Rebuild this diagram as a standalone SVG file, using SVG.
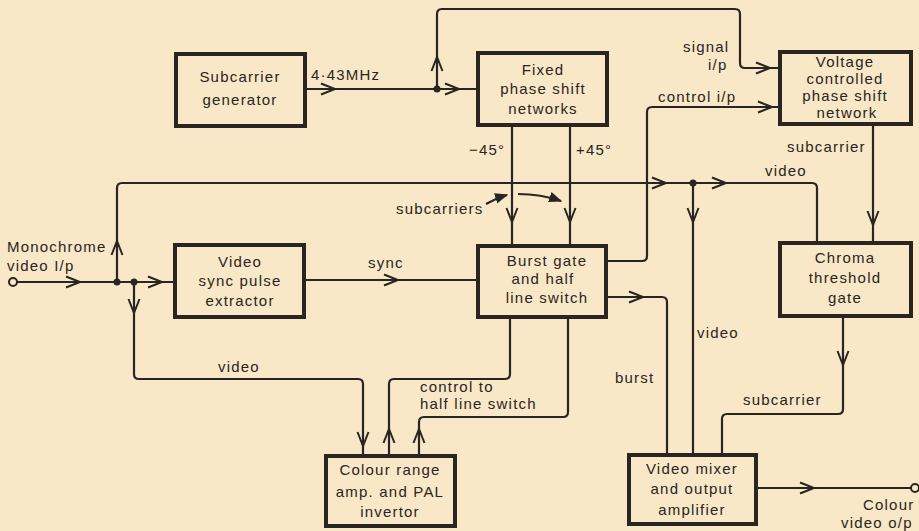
<svg xmlns="http://www.w3.org/2000/svg" xmlns:xlink="http://www.w3.org/1999/xlink" width="919" height="531" viewBox="0 0 919 531">
<style>
.box{fill:none;stroke:#2a2520;stroke-width:4}
.t{font-family:"Liberation Sans","DejaVu Sans",sans-serif;font-size:15px;fill:#2a2520;letter-spacing:1.2px}
.c{text-anchor:middle}
.ln{fill:none;stroke:#2a2520;stroke-width:2.2;stroke-linejoin:round}
.ah{fill:none;stroke:#2a2520;stroke-width:2;stroke-linejoin:miter}
.dot{fill:#2a2520}
</style>
<defs>
<path id="ah" d="M-14,-5.5 L0,0 L-14,5.5"/>
<marker id="sm" viewBox="0 0 10 10" refX="9" refY="5" markerWidth="6" markerHeight="6" orient="auto"><path d="M0,1 L10,5 L0,9 Z" fill="#2a2520"/></marker>
</defs>
<rect width="919" height="531" fill="#f8e8c8"/>

<g id="connectors">
<path class="ln" d="M306,89 H476"/>
<path class="ln" d="M437,89 V14 Q437,9 442,9 H735 Q740,9 740,14 V63 Q740,68 745,68 H778"/>
<path class="ln" d="M607,261 H642 Q647,261 647,256 V112 Q647,107 652,107 H778"/>
<path class="ln" d="M512,126 V244"/>
<path class="ln" d="M570,126 V244"/>
<path class="ln" d="M873,124 V241"/>
<path class="ln" d="M117,282 V188 Q117,183 122,183 H812 Q817,183 817,188 V241"/>
<path class="ln" d="M693,183 V453"/>
<path class="ln" d="M17,282 H174"/>
<path class="ln" d="M134,282 V374 Q134,379 139,379 H358 Q363,379 363,384 V454"/>
<path class="ln" d="M389,454 V384 Q389,379 394,379 H505 Q510,379 510,374 V318"/>
<path class="ln" d="M419,454 V422 Q419,417 424,417 H563 Q568,417 568,412 V318"/>
<path class="ln" d="M305,280 H477"/>
<path class="ln" d="M607,297 H662 Q667,297 667,302 V453"/>
<path class="ln" d="M843,317 V409 Q843,414 838,414 H727 Q722,414 722,419 V453"/>
<path class="ln" d="M757,488 H911"/>
<circle cx="13" cy="282" r="4" fill="none" stroke="#2a2520" stroke-width="2"/>
<circle cx="915" cy="488" r="4" fill="none" stroke="#2a2520" stroke-width="2"/>
<circle class="dot" cx="437" cy="89" r="3.5"/>
<circle class="dot" cx="693" cy="183" r="3.5"/>
<circle class="dot" cx="117" cy="282" r="3.5"/>
<circle class="dot" cx="134" cy="282" r="3.5"/>
<path class="ln" d="M486,204 Q497,198 507,195" stroke-width="1.5" marker-end="url(#sm)"/>
<path class="ln" d="M518,194 Q541,194 561,201" stroke-width="1.5" marker-end="url(#sm)"/>
<g class="ah">
<use xlink:href="#ah" transform="translate(335,89)"/>
<use xlink:href="#ah" transform="translate(459,89)"/>
<use xlink:href="#ah" transform="translate(437,57) rotate(-90)"/>
<use xlink:href="#ah" transform="translate(770,68)"/>
<use xlink:href="#ah" transform="translate(772,107)"/>
<use xlink:href="#ah" transform="translate(512,222) rotate(90)"/>
<use xlink:href="#ah" transform="translate(570,222) rotate(90)"/>
<use xlink:href="#ah" transform="translate(873,225) rotate(90)"/>
<use xlink:href="#ah" transform="translate(117,241) rotate(-90)"/>
<use xlink:href="#ah" transform="translate(666,183)"/>
<use xlink:href="#ah" transform="translate(726,183)"/>
<use xlink:href="#ah" transform="translate(693,222) rotate(90)"/>
<use xlink:href="#ah" transform="translate(80,282)"/>
<use xlink:href="#ah" transform="translate(162,282)"/>
<use xlink:href="#ah" transform="translate(134,313) rotate(90)"/>
<use xlink:href="#ah" transform="translate(363,446) rotate(90)"/>
<use xlink:href="#ah" transform="translate(389,429) rotate(-90)"/>
<use xlink:href="#ah" transform="translate(419,429) rotate(-90)"/>
<use xlink:href="#ah" transform="translate(398,280)"/>
<use xlink:href="#ah" transform="translate(643,297)"/>
<use xlink:href="#ah" transform="translate(843,365) rotate(90)"/>
<use xlink:href="#ah" transform="translate(814,488)"/>
</g>
</g>

<g id="subcarrier-generator">
<rect class="box" x="176" y="54" width="129" height="72"/>
<text class="t c" x="240" y="82">Subcarrier</text>
<text class="t c" x="240" y="105">generator</text>
</g>
<g id="fixed-phase-shift">
<rect class="box" x="478" y="53" width="129" height="72"/>
<text class="t c" x="543" y="75">Fixed</text>
<text class="t c" x="543" y="94">phase shift</text>
<text class="t c" x="543" y="114">networks</text>
</g>
<g id="voltage-controlled">
<rect class="box" x="780" y="52" width="131" height="72"/>
<text class="t c" x="845" y="67">Voltage</text>
<text class="t c" x="845" y="84">controlled</text>
<text class="t c" x="845" y="101">phase shift</text>
<text class="t c" x="847" y="118">network</text>
</g>
<g id="video-sync">
<rect class="box" x="175" y="245" width="129" height="72"/>
<text class="t c" x="240" y="267">Video</text>
<text class="t c" x="240" y="286">sync pulse</text>
<text class="t c" x="240" y="306">extractor</text>
</g>
<g id="burst-gate">
<rect class="box" x="478" y="246" width="128" height="71"/>
<text class="t c" x="547" y="266">Burst gate</text>
<text class="t c" x="543" y="284">and half</text>
<text class="t c" x="547" y="303">line switch</text>
</g>
<g id="chroma-gate">
<rect class="box" x="780" y="243" width="131" height="73"/>
<text class="t c" x="845" y="263">Chroma</text>
<text class="t c" x="845" y="283">threshold</text>
<text class="t c" x="845" y="303">gate</text>
</g>
<g id="colour-range">
<rect class="box" x="326" y="456" width="129" height="70"/>
<text class="t c" x="390" y="475">Colour range</text>
<text class="t c" x="390" y="497">amp. and PAL</text>
<text class="t c" x="390" y="517">invertor</text>
</g>
<g id="video-mixer">
<rect class="box" x="629" y="455" width="127" height="69"/>
<text class="t c" x="692" y="474">Video mixer</text>
<text class="t c" x="692" y="494">and output</text>
<text class="t c" x="692" y="515">amplifier</text>
</g>

<g id="labels">
<text class="t" x="311" y="80">4·43MHz</text>
<text class="t" x="683" y="52">signal</text>
<text class="t" x="708" y="70">i/p</text>
<text class="t" x="658" y="102">control i/p</text>
<text class="t" x="469" y="155">−45°</text>
<text class="t" x="576" y="155">+45°</text>
<text class="t" x="787" y="152">subcarrier</text>
<text class="t" x="765" y="176">video</text>
<text class="t" x="396" y="214">subcarriers</text>
<text class="t" x="7" y="252" letter-spacing="0">Monochrome</text>
<text class="t" x="7" y="271">video I/p</text>
<text class="t" x="368" y="268">sync</text>
<text class="t" x="697" y="338">video</text>
<text class="t" x="218" y="372">video</text>
<text class="t" x="420" y="392" font-size="14">control to</text>
<text class="t" x="420" y="409" font-size="14">half line switch</text>
<text class="t" x="615" y="383">burst</text>
<text class="t" x="743" y="405">subcarrier</text>
<text class="t" x="863" y="510">Colour</text>
<text class="t" x="841" y="528">video o/p</text>
</g>
</svg>
